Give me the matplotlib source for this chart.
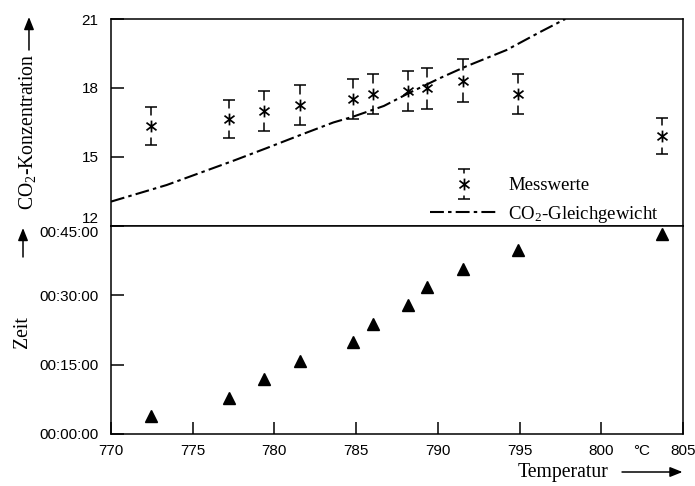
import matplotlib
matplotlib.use("Agg")
import matplotlib.pyplot as plt
from matplotlib.path import Path
from matplotlib.patches import FancyArrowPatch
from matplotlib.container import ErrorbarContainer
from matplotlib.legend_handler import HandlerErrorbar
from matplotlib.ticker import FuncFormatter

plt.rcParams["font.family"] = ["Liberation Sans", "DejaVu Sans"]
plt.rcParams["mathtext.default"] = "regular"
plt.rcParams["lines.scale_dashes"] = False

# Furnace temperature of each measurement (°C)
temperature = [772.45, 777.23, 779.39, 781.58, 784.83, 786.05, 788.2, 789.33, 791.56, 794.93, 803.7]
# Measured CO2 concentration and its uncertainty
co2_measured = [16.35, 16.64, 17.01, 17.27, 17.52, 17.74, 17.88, 17.99, 18.32, 17.74, 15.91]
co2_error = [0.82, 0.83, 0.87, 0.86, 0.86, 0.88, 0.88, 0.90, 0.92, 0.87, 0.80]
# Elapsed time (minutes) at which each temperature was reached
elapsed_min = [3.8, 7.8, 11.8, 15.8, 19.8, 23.8, 27.8, 31.7, 35.7, 39.7, 43.3]

# Equilibrium CO2 concentration
eq_temperature = [770.0, 773.4, 777.5, 779.5, 781.6, 783.6, 784.8, 786.7, 788.2, 790.1,
                  791.7, 794.2, 796.3, 797.8]
eq_co2 = [13.06, 13.78, 14.84, 15.38, 15.96, 16.50, 16.75, 17.22, 17.77, 18.42,
          18.93, 19.65, 20.45, 21.00]

x_ticks = [770, 775, 780, 785, 790, 795, 800, 805]
co2_ticks = [12, 15, 18, 21]
time_ticks = [0, 15, 30, 45]

serif = {"family": ["Liberation Serif", "DejaVu Serif"], "size": 13.5}
serif_label = {"family": ["Liberation Serif", "DejaVu Serif"], "size": 14.2}

fig = plt.figure(figsize=(6.95, 4.86), dpi=100)
ax1 = fig.add_axes([0.1597, 0.5350, 0.8230, 0.4259])
ax2 = fig.add_axes([0.1597, 0.1070, 0.8230, 0.4280], sharex=ax1)

for ax in (ax1, ax2):
    for s in ax.spines.values():
        s.set_linewidth(1.1)
    ax.tick_params(direction="in", length=9, width=1.1, labelsize=11, pad=9)
    ax.tick_params(axis="x", pad=7.5)

# asterisk-like marker: vertical stroke plus two diagonals
asterisk = Path([(0, -1), (0, 1), (-0.85, -0.65), (0.85, 0.65), (-0.85, 0.65), (0.85, -0.65)],
                [Path.MOVETO, Path.LINETO] * 3)
# narrow white block that opens the error bar around the marker
gap_block = Path([(-0.3, -1), (0.3, -1), (0.3, 1), (-0.3, 1), (-0.3, -1)],
                 [Path.MOVETO, Path.LINETO, Path.LINETO, Path.LINETO, Path.CLOSEPOLY])

eb = ax1.errorbar(temperature, co2_measured, yerr=co2_error, fmt="none", ecolor="black",
                  elinewidth=1.1, capsize=4.2, capthick=1.1, zorder=2)
gap = ax1.plot(temperature, co2_measured, ls="none", marker=gap_block, ms=15.4,
               mfc="white", mec="none", zorder=3)[0]
eq_line = ax1.plot(eq_temperature, eq_co2, color="black", lw=1.5, zorder=4)[0]
eq_line.set_dashes((10, 3, 2.5, 3))
stars = ax1.plot(temperature, co2_measured, ls="none", marker=asterisk, ms=8.5,
                 mec="black", mew=1.25, zorder=5)[0]

ax1.set_xlim(770, 805)
ax1.set_ylim(12, 21)
ax1.set_yticks(co2_ticks)
ax1.tick_params(axis="x", which="both", length=0, labelbottom=False)

ax1.legend([(eb, gap, stars), eq_line], ["Messwerte", "CO$_2$-Gleichgewicht"],
           handler_map={ErrorbarContainer: HandlerErrorbar(yerr_size=0.8)},
           loc="lower left", bbox_to_anchor=(0.558, 0.006), frameon=False,
           prop=serif, handlelength=3.6, handletextpad=0.55, labelspacing=0.5,
           borderpad=0, borderaxespad=0)

ax2.plot(temperature, elapsed_min, ls="none", marker="^", ms=9, color="black")
ax2.set_ylim(0, 45)
ax2.set_yticks(time_ticks)
ax2.yaxis.set_major_formatter(FuncFormatter(lambda v, p: "00:%02d:00" % int(round(v))))
ax2.set_xticks(x_ticks)
ax2.set_xticklabels([str(t) for t in x_ticks])

# keep the labels at the shared boundary clear of each other
ax1.yaxis.get_major_ticks()[0].label1.set_va("bottom")
ax2.yaxis.get_major_ticks()[-1].label1.set_va("top")

ax2.annotate("°C", xy=(802.5, 0), xycoords=("data", "axes fraction"), xytext=(0, -7.5),
             textcoords="offset points", ha="center", va="top", fontsize=11)

arrow = dict(arrowstyle="-|>,head_length=0.5,head_width=0.2", lw=1.1, color="black",
             mutation_scale=15, shrinkA=0, shrinkB=0)

fig.text(0.0389, 0.7284, "CO$_2$-Konzentration", rotation=90, ha="center", va="center",
         fontdict=serif_label)
fig.text(0.0317, 0.3169, "Zeit", rotation=90, ha="center", va="center", fontdict=serif_label)
fig.text(0.81, 0.0288, "Temperatur", ha="center", va="center", fontdict=serif_label)

fig.add_artist(FancyArrowPatch((0.0417, 0.8971), (0.0417, 0.965), transform=fig.transFigure, **arrow))
fig.add_artist(FancyArrowPatch((0.0331, 0.4712), (0.0331, 0.5309), transform=fig.transFigure, **arrow))
fig.add_artist(FancyArrowPatch((0.895, 0.0288), (0.982, 0.0288), transform=fig.transFigure, **arrow))

fig.savefig("out.png", dpi=100)
